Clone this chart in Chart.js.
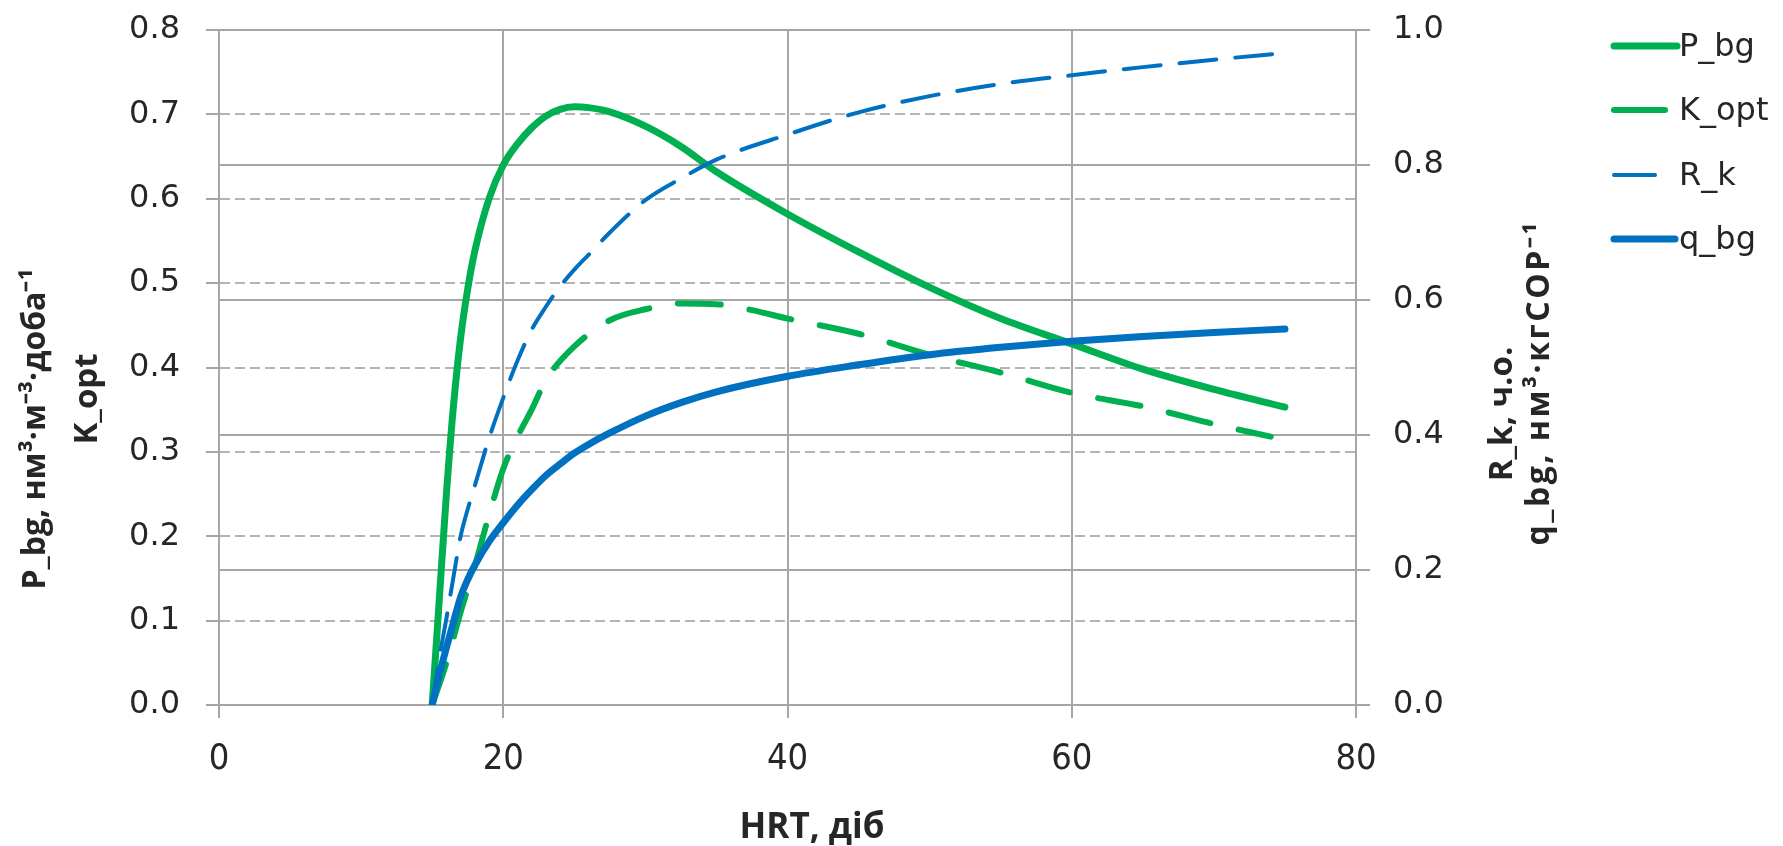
<!DOCTYPE html>
<html><head><meta charset="utf-8">
<script src="https://cdn.jsdelivr.net/npm/chart.js@4.4.1/dist/chart.umd.min.js"></script>
<style>html,body{margin:0;padding:0;background:#fff;}canvas{display:block;}</style>
</head><body>
<canvas id="c" width="1783" height="846"></canvas>
<script>
// ---- data ----
const hrt = [15, 15.5, 16, 16.5, 17, 17.5, 18, 19, 20, 21, 22, 23, 24, 25, 26, 27.5, 30, 32.5, 35, 40, 45, 50, 55, 60, 65, 70, 75];
const pBg = [0, 0.125, 0.25, 0.355, 0.435, 0.493, 0.538, 0.60, 0.64, 0.665, 0.684, 0.698, 0.706, 0.709, 0.708, 0.703, 0.686, 0.662, 0.632, 0.582, 0.537, 0.495, 0.458, 0.428, 0.398, 0.374, 0.353];
const kOptHrt = [15, 16, 17, 18, 19, 20, 21, 22, 23, 25, 27.5, 30, 32.5, 35, 37.5, 40, 45, 50, 55, 60, 65, 70, 74];
const kOpt = [0, 0.05, 0.11, 0.165, 0.225, 0.28, 0.318, 0.35, 0.385, 0.425, 0.456, 0.469, 0.476, 0.475, 0.468, 0.458, 0.44, 0.415, 0.394, 0.370, 0.354, 0.333, 0.318];
const rK = [0, 0.07, 0.128, 0.19, 0.25, 0.29, 0.325, 0.395, 0.455, 0.51, 0.556, 0.59, 0.62, 0.645, 0.667, 0.70, 0.748, 0.78, 0.808, 0.845, 0.878, 0.902, 0.92, 0.933, 0.945, 0.956, 0.966];
const qBg = [0, 0.045, 0.085, 0.123, 0.16, 0.186, 0.207, 0.242, 0.27, 0.296, 0.319, 0.34, 0.357, 0.373, 0.386, 0.403, 0.428, 0.448, 0.464, 0.487, 0.504, 0.519, 0.530, 0.539, 0.546, 0.552, 0.557];

const seriesNames = ['P_bg', 'K_opt', 'R_k', 'q_bg'];
const xTitle = 'HRT, діб';
const leftTitle = ['P_bg, нм³·м⁻³·доба⁻¹', 'K_opt'];
const rightTitle = ['R_k, ч.о.', 'q_bg, нм³·кгСОР⁻¹'];
const xRange = [0, 80], xStep = 20;
const yRange = [0, 0.8], yStep = 0.1;
const y1Range = [0, 1.0], y1Step = 0.2;

const GREEN = '#00B050', BLUE = '#0070C0';
const GRID = '#a6a6a6', TEXT = '#262626';

const pts = (xs, ys) => xs.map((x, i) => ({x, y: ys[i]}));

const legendItems = [
  {label: seriesNames[0], color: GREEN, width: 7, len: 63, y: 46},
  {label: seriesNames[1], color: GREEN, width: 6, len: 51, y: 110},
  {label: seriesNames[2], color: BLUE,  width: 4, len: 41, y: 175},
  {label: seriesNames[3], color: BLUE,  width: 7, len: 61, y: 239}
];

const decor = {
  id: 'decor',
  afterDraw(chart) {
    const ctx = chart.ctx;
    ctx.save();
    ctx.fillStyle = TEXT;
    ctx.textBaseline = 'alphabetic';
    ctx.textAlign = 'center';
    // x title
    ctx.font = 'bold 35px "Open Sans"';
    ctx.fillText(xTitle, 812, 838);
    // rotated axis titles: [baseline x, centre y, font size, letter spacing, text]
    [[45, 429, 32, 0, leftTitle[0]], [97, 399, 33, 0, leftTitle[1]],
     [1512, 414, 33, 0, rightTitle[0]], [1549, 384, 32, 2.5, rightTitle[1]]].forEach(([bx, cy, fs, ls, t]) => {
      ctx.save(); ctx.translate(bx, cy); ctx.rotate(-Math.PI / 2);
      ctx.font = 'bold ' + fs + 'px "Open Sans"';
      ctx.letterSpacing = ls + 'px';
      ctx.fillText(t, ls / 2, 0); ctx.restore();
    });
    // legend
    ctx.font = '32px "DejaVu Sans"';
    ctx.textAlign = 'left';
    ctx.textBaseline = 'middle';
    legendItems.forEach(it => {
      ctx.strokeStyle = it.color;
      ctx.lineWidth = it.width;
      ctx.lineCap = 'round';
      ctx.beginPath();
      ctx.moveTo(1614, it.y);
      ctx.lineTo(1614 + it.len, it.y);
      ctx.stroke();
      ctx.fillStyle = TEXT;
      ctx.fillText(it.label, 1679, it.y + 2);
    });
    ctx.restore();
  }
};

const noVPad = s => { s.paddingTop = 0; s.paddingBottom = 0; };

new Chart(document.getElementById('c'), {
  type: 'line',
  data: {
    datasets: [
      {label: seriesNames[3], data: pts(hrt, qBg), yAxisID: 'y1', borderColor: BLUE, borderWidth: 7, order: 1},
      {label: seriesNames[2], data: pts(hrt, rK), yAxisID: 'y1', borderColor: BLUE, borderWidth: 4, borderDash: [37, 19], order: 2},
      {label: seriesNames[0], data: pts(hrt, pBg), yAxisID: 'y', borderColor: GREEN, borderWidth: 7, order: 3},
      {label: seriesNames[1], data: pts(kOptHrt, kOpt), yAxisID: 'y', borderColor: GREEN, borderWidth: 6, borderDash: [43, 29], order: 4}
    ]
  },
  options: {
    responsive: false,
    animation: false,
    devicePixelRatio: 1,
    layout: {padding: {left: 0, right: 327, top: 30, bottom: 0}},
    elements: {
      point: {radius: 0},
      line: {cubicInterpolationMode: 'monotone', borderCapStyle: 'round', borderJoinStyle: 'round', fill: false}
    },
    plugins: {legend: {display: false}, tooltip: {enabled: false}},
    scales: {
      x: {
        type: 'linear', min: xRange[0], max: xRange[1],
        afterFit: s => { s.height = 141; },
        ticks: {stepSize: xStep, color: TEXT, padding: 20,
          font: {family: '"Liberation Sans Narrow", "DejaVu Sans Condensed", sans-serif', size: 36}},
        grid: {color: GRID, lineWidth: 2, tickLength: 13},
        border: {color: GRID, width: 2}
      },
      y: {
        position: 'left', min: yRange[0], max: yRange[1],
        afterFit: s => { s.width = 219; noVPad(s); },
        ticks: {stepSize: yStep, color: TEXT, padding: 26, callback: v => v.toFixed(1),
          font: {family: '"DejaVu Sans"', size: 32}},
        grid: {color: '#b4b4b4', lineWidth: 2, tickLength: 13, tickColor: GRID},
        border: {color: GRID, width: 2, dash: [10, 5]}
      },
      y1: {
        position: 'right', min: y1Range[0], max: y1Range[1],
        afterFit: s => { s.width = 100; noVPad(s); },
        ticks: {stepSize: y1Step, color: TEXT, padding: 23, callback: v => v.toFixed(1),
          font: {family: '"DejaVu Sans"', size: 32}},
        grid: {color: GRID, lineWidth: 2, tickLength: 14},
        border: {color: GRID, width: 2}
      }
    }
  },
  plugins: [decor]
});
</script>
</body></html>
